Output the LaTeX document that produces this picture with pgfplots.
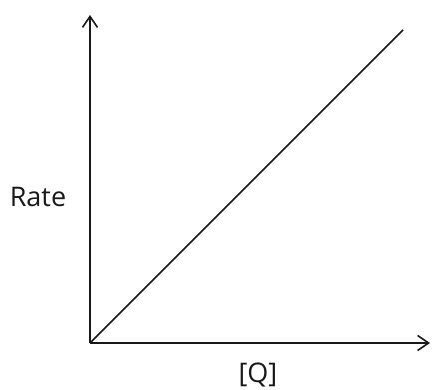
\documentclass[border=0pt]{standalone}
\usepackage{fontspec}
\setmainfont{Open Sans}
\usepackage{pgfplots}
\pgfplotsset{compat=1.18}
\usetikzlibrary{arrows.meta}

\begin{document}
\begin{tikzpicture}[x=1pt,y=1pt]
\begin{axis}[
    scale only axis,
    width=340pt,
    height=328pt,
    xmin=0, xmax=340,
    ymin=0, ymax=328,
    axis lines=left,
    axis line style={line width=1.6pt, black!90, -{Straight Barb[length=11pt,width=15pt,line width=1.6pt]}},
    ticks=none,
    clip=false,
    xlabel={[Q]},
    ylabel={Rate},
    label style={font=\fontsize{27}{31}\selectfont, color=black!90},
    xlabel style={at={(rel axis cs:0.494,-0.098)}, anchor=center},
    ylabel style={at={(rel axis cs:-0.153,0.445)}, anchor=center, rotate=-90},
]
\addplot[line width=1.5pt, black!90] coordinates {(0,0) (313,313)};
\end{axis}
\pgfresetboundingbox
\path (-90pt,-47pt) rectangle (343pt,343pt);
\end{tikzpicture}
\end{document}
